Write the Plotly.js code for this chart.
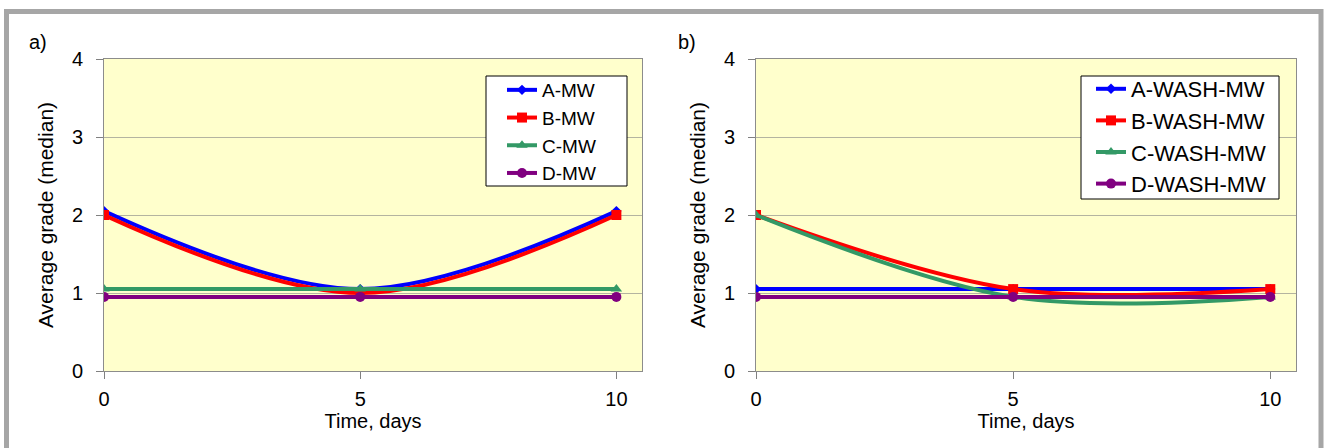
<!DOCTYPE html>
<html>
<head>
<meta charset="utf-8">
<script src="https://cdn.plot.ly/plotly-3.0.1.min.js"></script>
<style>
  html, body { margin: 0; padding: 0; background: #ffffff; }
  #chart { width: 1326px; height: 448px; }
</style>
</head>
<body>
<div id="chart"></div>
<script>
// ---- data ----
var days = [0, 5, 10];
var xTicks = [0, 5, 10];
var yTicks = [0, 1, 2, 3, 4];

var namesA = ['A-MW', 'B-MW', 'C-MW', 'D-MW'];
var aMW = [2.05, 1.05, 2.05];
var bMW = [2.0, 1.0, 2.0];
var cMW = [1.05, 1.05, 1.05];
var dMW = [0.95, 0.95, 0.95];

var namesB = ['A-WASH-MW', 'B-WASH-MW', 'C-WASH-MW', 'D-WASH-MW'];
var aWash = [1.05, 1.05, 1.05];
var bWash = [2.0, 1.05, 1.05];
var cWash = [2.0, 0.95, 0.95];
var dWash = [0.95, 0.95, 0.95];

var panelLabels = ['a)', 'b)'];
var xTitle = 'Time, days';
var yTitle = 'Average grade (median)';

// ---- styles ----
var W = 1326, H = 448;
function px(x) { return x / W; }
function py(y) { return 1 - y / H; }

var FONT = 'Liberation Sans, Arial, sans-serif';
var styles = [
  { color: '#0000ff', symbol: 'diamond', size: 8 },
  { color: '#ff0000', symbol: 'square', size: 10 },
  { color: '#339966', symbol: 'triangle-up', size: 10 },
  { color: '#800080', symbol: 'circle', size: 10 }
];

function mk(y, name, i, xa, ya, leg) {
  var s = styles[i];
  return {
    x: days, y: y, name: name, type: 'scatter', mode: 'lines+markers',
    xaxis: xa, yaxis: ya, legend: leg,
    line: { color: s.color, width: 4, shape: 'spline', smoothing: 1 },
    marker: { color: s.color, symbol: s.symbol, size: s.size }
  };
}

var seriesA = [aMW, bMW, cMW, dMW];
var seriesB = [aWash, bWash, cWash, dWash];
var traces = [];
seriesA.forEach(function (y, i) { traces.push(mk(y, namesA[i], i, 'x', 'y', 'legend')); });
seriesB.forEach(function (y, i) { traces.push(mk(y, namesB[i], i, 'x2', 'y2', 'legend2')); });

function xax(dom, anchor) {
  return {
    domain: dom, anchor: anchor, range: [0, 10.5],
    tickmode: 'array', tickvals: xTicks, ticktext: xTicks.map(String),
    ticks: 'outside', ticklen: 7, tickcolor: '#808080', tickwidth: 1,
    ticklabelstandoff: 3,
    showgrid: false, zeroline: false,
    showline: true, linecolor: '#8c8c8c', linewidth: 1, mirror: true,
    tickfont: { family: FONT, size: 20, color: '#000' },
    title: { text: xTitle, font: { family: FONT, size: 20, color: '#000' }, standoff: 0 },
    fixedrange: true
  };
}
function yax(dom, anchor) {
  return {
    domain: dom, anchor: anchor, range: [0, 4],
    tickmode: 'array', tickvals: yTicks, ticktext: yTicks.map(String),
    ticks: 'outside', ticklen: 7, tickcolor: '#808080', tickwidth: 1,
    ticklabelstandoff: 9,
    showgrid: true, gridcolor: '#b4b4a0', gridwidth: 1, zeroline: false,
    showline: true, linecolor: '#8c8c8c', linewidth: 1, mirror: true,
    tickfont: { family: FONT, size: 20, color: '#000' },
    title: { text: yTitle, font: { family: FONT, size: 21, color: '#000' }, standoff: 12 },
    fixedrange: true
  };
}

var yDom = [py(371), py(59)];
var layout = {
  width: W, height: H,
  margin: { l: 0, r: 0, t: 0, b: 0, pad: 0 },
  paper_bgcolor: '#ffffff',
  plot_bgcolor: '#ffffcc',
  showlegend: true,
  xaxis: xax([px(104), px(642)], 'y'),
  yaxis: yax(yDom, 'x'),
  xaxis2: xax([px(756), px(1296)], 'y2'),
  yaxis2: yax(yDom, 'x2'),
  legend: {
    x: px(502), y: py(71), xanchor: 'left', yanchor: 'top',
    bgcolor: 'rgba(0,0,0,0)', borderwidth: 0,
    font: { family: FONT, size: 19, color: '#000' },
    itemwidth: 30
  },
  legend2: {
    x: px(1091), y: py(68), xanchor: 'left', yanchor: 'top',
    bgcolor: 'rgba(0,0,0,0)', borderwidth: 0,
    font: { family: FONT, size: 22, color: '#000' },
    itemwidth: 30
  },
  shapes: [
    { type: 'rect', xref: 'paper', yref: 'paper', x0: px(6.5), x1: px(1321), y0: -0.1, y1: py(11.5),
      line: { color: '#a6a6a6', width: 5 }, fillcolor: 'rgba(0,0,0,0)', layer: 'above' },
    { type: 'rect', xref: 'paper', yref: 'paper', x0: px(486), x1: px(627), y0: py(186), y1: py(76),
      line: { color: '#000000', width: 1 }, fillcolor: '#ffffff', layer: 'above' },
    { type: 'rect', xref: 'paper', yref: 'paper', x0: px(1081), x1: px(1279), y0: py(199), y1: py(76),
      line: { color: '#000000', width: 1 }, fillcolor: '#ffffff', layer: 'above' }
  ],
  annotations: [
    { text: panelLabels[0], xref: 'paper', yref: 'paper', x: px(27), y: py(42), xanchor: 'left', yanchor: 'middle',
      showarrow: false, font: { family: FONT, size: 20, color: '#000' } },
    { text: panelLabels[1], xref: 'paper', yref: 'paper', x: px(676), y: py(42), xanchor: 'left', yanchor: 'middle',
      showarrow: false, font: { family: FONT, size: 20, color: '#000' } }
  ]
};

Plotly.newPlot('chart', traces, layout, { displayModeBar: false, staticPlot: true });
</script>
</body>
</html>
